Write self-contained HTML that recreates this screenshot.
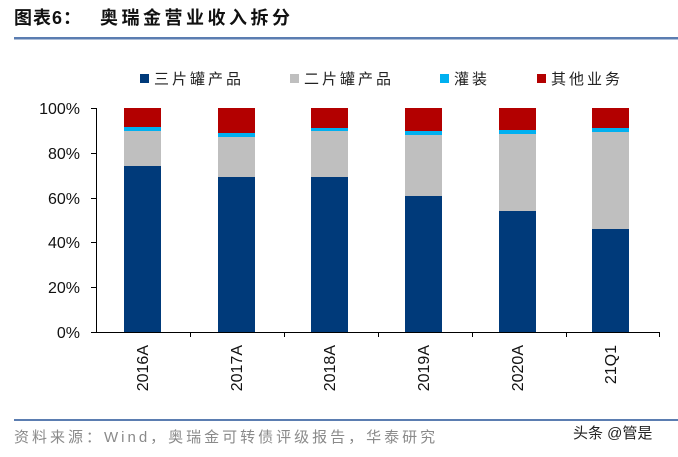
<!DOCTYPE html><html><head><meta charset="utf-8"><style>
body{margin:0;background:#fff;width:678px;height:452px;overflow:hidden;font-family:"Liberation Sans","Noto Sans CJK SC",sans-serif}
</style></head><body>
<svg width="678" height="452" xmlns="http://www.w3.org/2000/svg" font-family="Liberation Sans, Noto Sans CJK SC, sans-serif">
<text x="14" y="24" font-size="18" font-weight="bold" fill="#111" letter-spacing="1">图表6：</text>
<text x="100" y="24" font-size="18" font-weight="bold" fill="#111" letter-spacing="3.5">奥瑞金营业收入拆分</text>
<rect x="14" y="37" width="664" height="2.5" fill="#5b7db1"/>
<g font-size="15" fill="#222" letter-spacing="3">
<rect x="140" y="74" width="9" height="9" fill="#003a7a"/><text x="154" y="84">三片罐产品</text>
<rect x="290" y="74" width="9" height="9" fill="#bfbfbf"/><text x="304" y="84">二片罐产品</text>
<rect x="440" y="74" width="9" height="9" fill="#00b0f0"/><text x="454" y="84">灌装</text>
<rect x="537" y="74" width="9" height="9" fill="#b30000"/><text x="551" y="84">其他业务</text>
</g>
<g stroke="#000" stroke-width="1">
<line x1="96.5" y1="108" x2="96.5" y2="332"/>
<line x1="96" y1="332.5" x2="660" y2="332.5"/>
<line x1="91" y1="108.5" x2="96" y2="108.5"/><line x1="91" y1="153.5" x2="96" y2="153.5"/><line x1="91" y1="198.5" x2="96" y2="198.5"/><line x1="91" y1="242.5" x2="96" y2="242.5"/><line x1="91" y1="287.5" x2="96" y2="287.5"/><line x1="91" y1="332.5" x2="96" y2="332.5"/>
<line x1="190.5" y1="332" x2="190.5" y2="337"/><line x1="284.5" y1="332" x2="284.5" y2="337"/><line x1="378.5" y1="332" x2="378.5" y2="337"/><line x1="472.5" y1="332" x2="472.5" y2="337"/><line x1="566.5" y1="332" x2="566.5" y2="337"/><line x1="659.5" y1="332" x2="659.5" y2="337"/>
</g>
<g font-size="16" fill="#111" text-anchor="end">
<text x="80" y="114">100%</text><text x="80" y="159">80%</text><text x="80" y="204">60%</text><text x="80" y="248">40%</text><text x="80" y="293">20%</text><text x="80" y="338">0%</text>
</g>
<g>
<rect x="124" y="166" width="37" height="166" fill="#003a7a"/><rect x="124" y="131" width="37" height="35" fill="#bfbfbf"/><rect x="124" y="127" width="37" height="4" fill="#00b0f0"/><rect x="124" y="108" width="37" height="19" fill="#b30000"/>
<rect x="218" y="177" width="37" height="155" fill="#003a7a"/><rect x="218" y="137" width="37" height="40" fill="#bfbfbf"/><rect x="218" y="133" width="37" height="4" fill="#00b0f0"/><rect x="218" y="108" width="37" height="25" fill="#b30000"/>
<rect x="311" y="177" width="37" height="155" fill="#003a7a"/><rect x="311" y="131" width="37" height="46" fill="#bfbfbf"/><rect x="311" y="128" width="37" height="3" fill="#00b0f0"/><rect x="311" y="108" width="37" height="20" fill="#b30000"/>
<rect x="405" y="196" width="37" height="136" fill="#003a7a"/><rect x="405" y="135" width="37" height="61" fill="#bfbfbf"/><rect x="405" y="131" width="37" height="4" fill="#00b0f0"/><rect x="405" y="108" width="37" height="23" fill="#b30000"/>
<rect x="499" y="211" width="37" height="121" fill="#003a7a"/><rect x="499" y="134" width="37" height="77" fill="#bfbfbf"/><rect x="499" y="130" width="37" height="4" fill="#00b0f0"/><rect x="499" y="108" width="37" height="22" fill="#b30000"/>
<rect x="592" y="229" width="37" height="103" fill="#003a7a"/><rect x="592" y="132" width="37" height="97" fill="#bfbfbf"/><rect x="592" y="128" width="37" height="4" fill="#00b0f0"/><rect x="592" y="108" width="37" height="20" fill="#b30000"/>
</g>
<g font-size="16" fill="#111" text-anchor="end">
<text transform="translate(148,345) rotate(-90)">2016A</text>
<text transform="translate(242,345) rotate(-90)">2017A</text>
<text transform="translate(335,345) rotate(-90)">2018A</text>
<text transform="translate(429,345) rotate(-90)">2019A</text>
<text transform="translate(523,345) rotate(-90)">2020A</text>
<text transform="translate(616,345) rotate(-90)">21Q1</text>
</g>
<rect x="14" y="419" width="664" height="2" fill="#5b7db1"/>
<text x="14" y="442" font-size="15" fill="#8a8a8a" letter-spacing="3">资料来源：Wind，奥瑞金可转债评级报告，华泰研究</text>
<text x="573" y="438" font-size="15" fill="#222">头条 @管是</text>
</svg>
</body></html>
